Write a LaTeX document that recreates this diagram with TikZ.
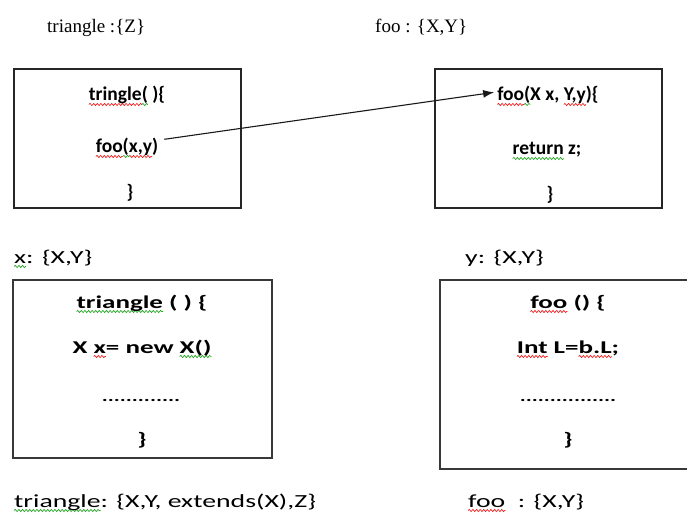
\documentclass[tikz,border=0pt]{standalone}
\usepackage{fontspec}
\usetikzlibrary{arrows.meta,decorations.pathmorphing}
\setmainfont{Liberation Serif}
\newfontfamily\codefont{Carlito}
\newfontfamily\widefont[FakeStretch=1.5]{Carlito}
\definecolor{sqred}{RGB}{235,35,35}
\definecolor{sqgrn}{RGB}{40,165,40}
% wavy spell-check style underlines
\newsavebox\sqbox
\newlength\sqwd
\newcommand\squig[2]{%
  \sbox\sqbox{#2}\setlength\sqwd{\wd\sqbox}%
  \rlap{\tikz[baseline=0pt]{\path (0pt,0pt);
    \draw[overlay, draw=#1, line width=0.7pt,
      decoration={snake, amplitude=1.1pt, segment length=3.6pt}, decorate]
      (0pt,-3.5pt) -- (\sqwd,-3.5pt);}}%
  \usebox\sqbox}
\newcommand\sqred[1]{\squig{sqred}{#1}}
\newcommand\sqgrn[1]{\squig{sqgrn}{#1}}
\begin{document}
\begin{tikzpicture}[x=1pt,y=-1pt,
  title/.style={font=\fontsize{19}{22}\selectfont, anchor=base west, inner sep=0},
  code/.style={font=\codefont\bfseries\fontsize{19.5}{22}\selectfont, anchor=base, inner sep=0},
  wcode/.style={font=\widefont\bfseries\fontsize{18}{22}\selectfont, anchor=base, inner sep=0},
  dotline/.style={font=\widefont\bfseries\fontsize{15}{18}\selectfont, anchor=base, inner sep=0},
  wlabel/.style={font=\widefont\fontsize{18.5}{22}\selectfont, anchor=base west, inner sep=0},
  frame/.style={draw=black!85, line width=1.3pt, inner sep=0},
  wframe/.style={draw=black!78, line width=1.7pt, inner sep=0},
  link/.style={draw=black!90, line width=1.1pt, -{Latex[length=11pt,width=8pt]}}]
\clip (0,0) rectangle (687,513);
\useasboundingbox (0,0) rectangle (687,513);

% headings
\node[title] (tZ) at (47,33) {triangle :\{Z\}};
\node[title] (tXY) at (375,33) {foo : \{X,Y\}};

% upper boxes
\node[frame, minimum width=227, minimum height=139] (b1) at (127.5,138.5) {};
\node[frame, minimum width=227, minimum height=139] (b2) at (548.5,138.5) {};

\node[code] (tri) at (127,101) {\sqred{tringle}\sqgrn{(} )\{};
\node[code] (fxy) at (127,153) {\sqred{foo}\sqgrn{(}\sqred{x,y})};
\node[code] (c1) at (130,198) {\}};

\node[code] (fooX) at (548,101) {\sqred{foo}\sqgrn{(}X x, \sqred{Y,y})\{};
\node[code] (ret) at (547,155) {\sqgrn{return} z;};
\node[code] (c2) at (550,200) {\}};

\draw[link] ([xshift=6pt,yshift=8pt]fxy.east) -- ([xshift=-3pt,yshift=3pt]fooX.west);

% middle labels
\node[wlabel] (lx) at (14,263) {\sqgrn{x}: \{X,Y\}};
\node[wlabel] (ly) at (465,263) {y: \{X,Y\}};

% lower boxes
\node[wframe, minimum width=259, minimum height=178] (b3) at (142.5,369) {};
\node[wframe, minimum width=256, minimum height=189] (b4) at (568,374.5) {};

\node[wcode] (tri2) at (142,308) {\sqgrn{triangle} ( ) \{};
\node[wcode] (newx) at (142,353) {X \sqred{x}= new \sqgrn{X()}};
\node[dotline] (dots1) at (141,401) {.............};
\node[wcode] (c3) at (142,445) {\}};

\node[wcode] (foo2) at (568,308) {\sqred{foo} () \{};
\node[wcode] (intl) at (568,353) {\sqred{Int} L=\sqred{b.L};};
\node[dotline] (dots2) at (568,401) {................};
\node[wcode] (c4) at (568,445) {\}};

% bottom labels
\node[wlabel] (ltri) at (14,507) {\sqgrn{triangle}: \{X,Y, extends(X),Z\}};
\node[wlabel] (lfoo) at (468,507) {\sqred{foo}~ : \{X,Y\}};
\end{tikzpicture}
\end{document}
